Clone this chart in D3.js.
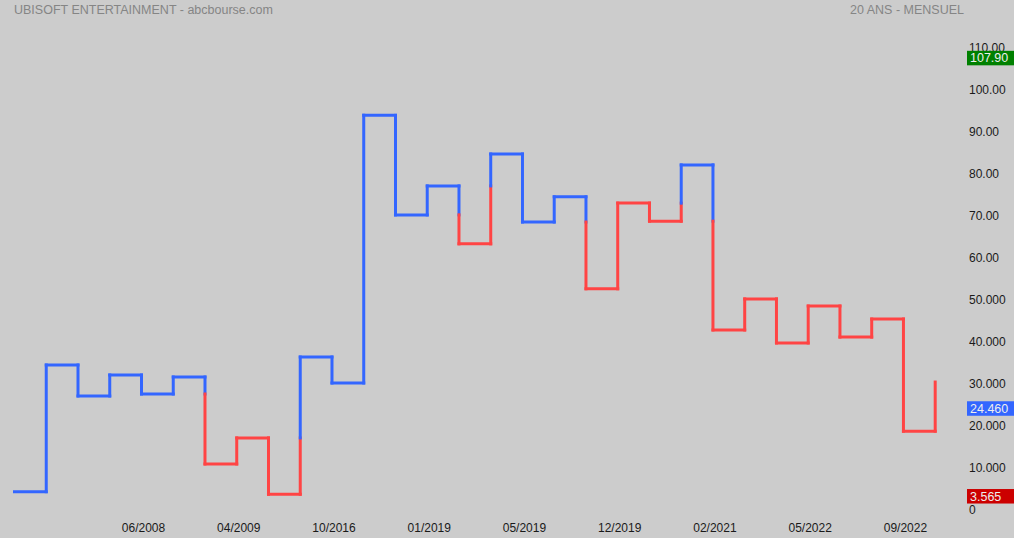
<!DOCTYPE html>
<html><head><meta charset="utf-8">
<script src="https://cdn.jsdelivr.net/npm/d3@7"></script>
<style>html,body{margin:0;padding:0;background:#cccccc;}svg{display:block;}</style>
</head><body>
<svg id="c" width="1014" height="538"></svg>
<script>
// Kagi levels (each horizontal run), in chronological order
const levels = [4.19, 34.36, 26.98, 31.98, 27.45, 31.5, 10.79, 17.0, 3.565, 36.26, 30.07,
  93.8, 70.1, 77.0, 63.2, 84.6, 68.4, 74.4, 52.5, 72.9, 68.6, 82.0, 42.7, 50.1, 39.6,
  48.4, 41.0, 45.3, 18.6, 30.3];
// x-axis labels at reversal indices
const xLabelIdx = [3, 6, 9, 12, 15, 18, 21, 24, 27];
const xLabels = ["06/2008", "04/2009", "10/2016", "01/2019", "05/2019", "12/2019", "02/2021", "05/2022", "09/2022"];
const yTicks = [0, 10, 20, 30, 40, 50, 60, 70, 80, 90, 100, 110];
const yTickLabels = ["0", "10.000", "20.000", "30.000", "40.000", "50.000", "60.00", "70.00", "80.00", "90.00", "100.00", "110.00"];
const badges = [
  {value: 107.90, label: "107.90", color: "#008000"},
  {value: 24.460, label: "24.460", color: "#3366ff"},
  {value: 3.565, label: "3.565", color: "#cc0000"}
];
const title = "UBISOFT ENTERTAINMENT - abcbourse.com";
const subtitle = "20 ANS - MENSUEL";

const svg = d3.select("#c");
const x = d3.scaleLinear().domain([-1, 28]).range([14.5, 935.2]);
const y = d3.scaleLinear().domain([0, 110]).range([509.3, 47.3]);
const BLUE = "#3366ff", RED = "#ff4444";

// Build colored segments using kagi rule
const segs = [];
let yang = true;
let lastHigh = null, lastLow = null;
segs.push({x1: x(-1), y1: y(levels[0]), x2: x(0), y2: y(levels[0]), c: BLUE});
for (let i = 0; i < levels.length - 1; i++) {
  const a = levels[i], b = levels[i + 1];
  const xi = x(i);
  const colA = yang ? BLUE : RED;
  if (b > a) {
    const thr = lastHigh;
    if (!yang && thr !== null && b > thr && a < thr) {
      segs.push({x1: xi, y1: y(a), x2: xi, y2: y(thr), c: RED});
      segs.push({x1: xi, y1: y(thr), x2: xi, y2: y(b), c: BLUE});
      yang = true;
    } else {
      segs.push({x1: xi, y1: y(a), x2: xi, y2: y(b), c: colA});
    }
    lastLow = a;
  } else {
    const thr = lastLow;
    if (yang && thr !== null && b < thr && a > thr) {
      segs.push({x1: xi, y1: y(a), x2: xi, y2: y(thr), c: BLUE});
      segs.push({x1: xi, y1: y(thr), x2: xi, y2: y(b), c: RED});
      yang = false;
    } else {
      segs.push({x1: xi, y1: y(a), x2: xi, y2: y(b), c: colA});
    }
    lastHigh = a;
  }
  if (i + 1 < levels.length - 1) {
    segs.push({x1: xi, y1: y(b), x2: x(i + 1), y2: y(b), c: yang ? BLUE : RED});
  }
}

svg.append("g").selectAll("line").data(segs).join("line")
  .attr("x1", d => d.x1).attr("y1", d => d.y1).attr("x2", d => d.x2).attr("y2", d => d.y2)
  .attr("stroke", d => d.c).attr("stroke-width", 3).attr("stroke-linecap", "square");

// Titles
svg.append("text").attr("x", 14).attr("y", 13.5).text(title)
  .attr("font-family", "Liberation Sans, Arial, sans-serif").attr("font-size", 12.5).attr("fill", "#858585");
svg.append("text").attr("x", 964).attr("y", 13.5).attr("text-anchor", "end").text(subtitle)
  .attr("font-family", "Liberation Sans, Arial, sans-serif").attr("font-size", 12.5).attr("fill", "#858585");

// Y axis tick labels
svg.append("g").selectAll("text").data(yTicks).join("text")
  .attr("x", 969).attr("y", d => y(d) + 4.3)
  .text((d, i) => yTickLabels[i])
  .attr("font-family", "Liberation Sans, Arial, sans-serif").attr("font-size", 12).attr("fill", "#1a1a1a");

// X axis labels
svg.append("g").selectAll("text").data(xLabelIdx).join("text")
  .attr("x", d => x(d) + 2).attr("y", 532).attr("text-anchor", "middle")
  .text((d, i) => xLabels[i])
  .attr("font-family", "Liberation Sans, Arial, sans-serif").attr("font-size", 12).attr("fill", "#1a1a1a");

// Badges
const bg = svg.append("g").selectAll("g").data(badges).join("g");
bg.append("rect").attr("x", 967).attr("y", d => y(d.value) - 5.3).attr("width", 47).attr("height", 14.5)
  .attr("fill", d => d.color);
bg.append("text").attr("x", 970).attr("y", d => y(d.value) + 6.3)
  .text(d => d.label)
  .attr("font-family", "Liberation Sans, Arial, sans-serif").attr("font-size", 12.5).attr("fill", "#eeeeee");
</script>
</body></html>
